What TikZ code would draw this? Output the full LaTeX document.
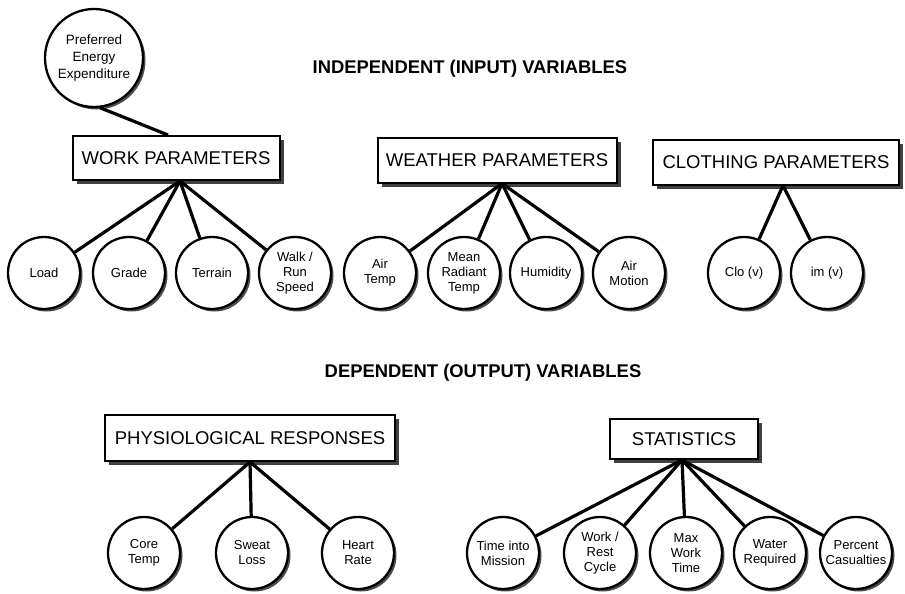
\documentclass[tikz,border=0pt]{standalone}
\usepackage{fontspec}
\setmainfont{Liberation Sans}
\usetikzlibrary{shadows}
\begin{document}
\begin{tikzpicture}[x=1pt,y=-1pt,
 pbox/.style={draw, line width=2pt, fill=white, rectangle, inner sep=0pt,
   font=\fontsize{18.5}{20}\selectfont,
   drop shadow={shadow xshift=4pt, shadow yshift=-4pt, fill=black!75, opacity=1}},
 var/.style={draw, circle, line width=2.3pt, fill=white, minimum size=72pt, inner sep=0pt,
   align=center, font=\fontsize{13}{15}\selectfont,
   drop shadow={shadow xshift=2.5pt, shadow yshift=-2.5pt, fill=black!70, opacity=1}},
 link/.style={line width=3.2pt},
 head/.style={font=\bfseries\fontsize{18.4}{20}\selectfont}]
\useasboundingbox (0,0) rectangle (905,594);

\node[head] (hin) at (470,69) {INDEPENDENT (INPUT) VARIABLES};
\node[head] (hout) at (483,373) {DEPENDENT (OUTPUT) VARIABLES};

\node[pbox, minimum width=207pt, minimum height=44pt] (work) at (176,158) {WORK PARAMETERS};
\node[pbox, minimum width=239pt, minimum height=45pt] (weather) at (497,160) {WEATHER PARAMETERS};
\node[pbox, minimum width=246pt, minimum height=45pt] (cloth) at (776,162) {CLOTHING PARAMETERS};
\node[pbox, minimum width=290pt, minimum height=46pt] (phys) at (250,438) {PHYSIOLOGICAL RESPONSES};
\node[pbox, minimum width=148pt, minimum height=40pt] (stats) at (684,439) {STATISTICS};

\node[var, minimum size=98pt, font=\fontsize{13.5}{17}\selectfont] (pee) at (94,58) {Preferred\\Energy\\Expenditure};

\node[var] (load) at (44,273) {Load};
\node[var] (grade) at (129,273) {Grade};
\node[var] (terrain) at (212,273) {Terrain};
\node[var] (walk) at (295,273) {Walk /\\Run\\Speed};
\node[var] (airtemp) at (380,273) {Air\\Temp};
\node[var] (mrt) at (464,273) {Mean\\Radiant\\Temp};
\node[var] (hum) at (546,273) {Humidity};
\node[var] (airmot) at (629,273) {Air\\Motion};
\node[var] (clo) at (744,273) {Clo (v)};
\node[var] (im) at (827,273) {im (v)};

\node[var] (core) at (144,553) {Core\\Temp};
\node[var] (sweat) at (252,553) {Sweat\\Loss};
\node[var] (heart) at (358,553) {Heart\\Rate};

\node[var] (time) at (503,553) {Time into\\Mission};
\node[var] (cycle) at (600,553) {Work /\\Rest\\Cycle};
\node[var] (maxw) at (686,553) {Max\\Work\\Time};
\node[var] (water) at (770,553) {Water\\Required};
\node[var] (perc) at (856,553) {Percent\\Casualties};

\draw[link] (pee.-83) -- ([xshift=-8pt]work.north);
\foreach \n in {load,grade,terrain,walk} \draw[link] ([xshift=4pt]work.south) -- (\n);
\foreach \n in {airtemp,mrt,hum,airmot} \draw[link] ([xshift=5pt]weather.south) -- (\n);
\foreach \n in {clo,im} \draw[link] ([xshift=7pt]cloth.south) -- (\n);
\foreach \n in {core,sweat,heart} \draw[link] (phys.south) -- (\n);
\foreach \n in {time,cycle,maxw,water,perc} \draw[link] ([xshift=-2pt]stats.south) -- (\n);
\end{tikzpicture}
\end{document}
